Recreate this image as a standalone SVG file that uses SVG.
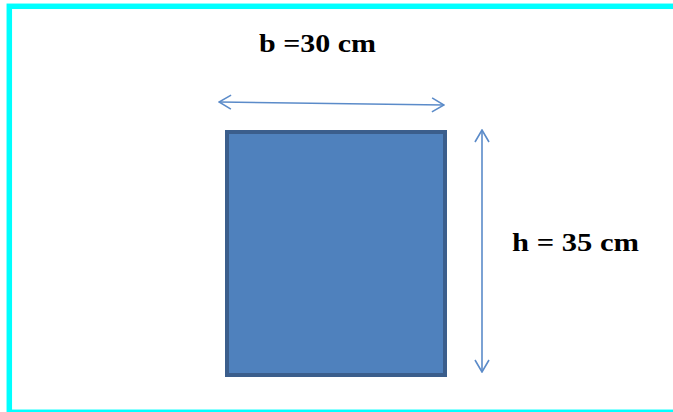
<svg xmlns="http://www.w3.org/2000/svg" width="673" height="412" viewBox="0 0 673 412">
<defs>
<style>
.lbl{font-family:"Liberation Serif","Times New Roman",serif;font-weight:bold;font-size:25px;fill:#000}
.dim{stroke:#5B8BC9;stroke-width:1.6;fill:none}
</style>
<marker id="chev" viewBox="0 0 14 16" refX="13" refY="8" markerWidth="14" markerHeight="16" markerUnits="userSpaceOnUse" orient="auto-start-reverse">
<path d="M1,1 L13,8 L1,15" fill="none" stroke="#5B8BC9" stroke-width="1.6"/>
</marker>
</defs>
<rect width="673" height="412" fill="#fff"/>
<rect id="frame" x="9.3" y="6.3" width="680" height="406" fill="none" stroke="#00FFFF" stroke-width="5.5"/>
<g id="section">
<rect x="227" y="132" width="218" height="243" fill="#4F81BD" stroke="#3B5E8C" stroke-width="4"/>
</g>
<g id="connectors">
<line class="dim" x1="219" y1="102" x2="444" y2="105" marker-start="url(#chev)" marker-end="url(#chev)"/>
<line class="dim" x1="482" y1="130" x2="482" y2="372" marker-start="url(#chev)" marker-end="url(#chev)"/>
</g>
<g id="label-b">
<text class="lbl" x="259" y="52" textLength="117" lengthAdjust="spacingAndGlyphs">b =30 cm</text>
</g>
<g id="label-h">
<text class="lbl" x="512" y="251" textLength="127" lengthAdjust="spacingAndGlyphs">h = 35 cm</text>
</g>
</svg>
